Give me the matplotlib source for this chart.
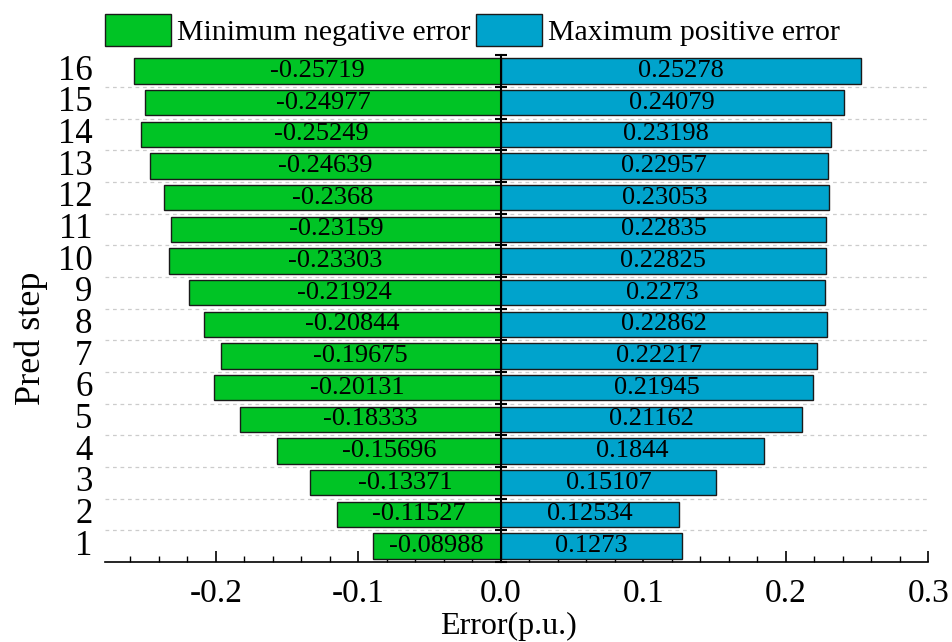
import numpy as np
import matplotlib
matplotlib.use("Agg")
import matplotlib.pyplot as plt
from matplotlib.patches import Patch
from matplotlib.ticker import MultipleLocator, FixedLocator

plt.rcParams['font.family'] = ['Liberation Serif', 'DejaVu Serif']

steps = list(range(1, 17))
neg_err = [-0.08988, -0.11527, -0.13371, -0.15696, -0.18333, -0.20131, -0.19675, -0.20844,
           -0.21924, -0.23303, -0.23159, -0.2368, -0.24639, -0.25249, -0.24977, -0.25719]
pos_err = [0.1273, 0.12534, 0.15107, 0.1844, 0.21162, 0.21945, 0.22217, 0.22862,
           0.2273, 0.22825, 0.22835, 0.23053, 0.22957, 0.23198, 0.24079, 0.25278]
neg_lbl = ['-0.08988', '-0.11527', '-0.13371', '-0.15696', '-0.18333', '-0.20131', '-0.19675',
           '-0.20844', '-0.21924', '-0.23303', '-0.23159', '-0.2368', '-0.24639', '-0.25249',
           '-0.24977', '-0.25719']
pos_lbl = ['0.1273', '0.12534', '0.15107', '0.1844', '0.21162', '0.21945', '0.22217', '0.22862',
           '0.2273', '0.22825', '0.22835', '0.23053', '0.22957', '0.23198', '0.24079', '0.25278']

GREEN = '#00c425'
BLUE = '#00a3cc'

fig = plt.figure(figsize=(9.53, 6.42), dpi=100)
ax = fig.add_axes([0.110, 0.1246, 0.864, 0.7894])

y = np.array(steps)
ax.barh(y, neg_err, height=0.8, color=GREEN, edgecolor='#1a1a1a', linewidth=1.0, zorder=2)
ax.barh(y, pos_err, height=0.8, color=BLUE, edgecolor='#1a1a1a', linewidth=1.0, zorder=2)

# value labels centred in each bar
for yi, v, s in zip(y, neg_err, neg_lbl):
    ax.text(v / 2, yi, s, ha='center', va='center', fontsize=19, zorder=3)
for yi, v, s in zip(y, pos_err, pos_lbl):
    ax.text(v / 2, yi, s, ha='center', va='center', fontsize=19, zorder=3)

# dashed separators between rows
for b in np.arange(1.5, 16.5, 1.0):
    ax.axhline(b, color='#cccccc', linestyle=(0, (3, 3)), linewidth=0.9, zorder=1)

ax.set_xlim(-0.278, 0.3)
ax.set_ylim(0.5, 16.5)

ax.spines['top'].set_visible(False)
ax.spines['right'].set_visible(False)
ax.spines['left'].set_position(('data', 0))
ax.spines['left'].set_linewidth(1.5)
ax.spines['bottom'].set_linewidth(1.2)

ax.xaxis.set_major_locator(FixedLocator([-0.2, -0.1, 0.0, 0.1, 0.2, 0.3]))
ax.xaxis.set_minor_locator(MultipleLocator(0.02))
ax.set_xticklabels(['-0.2', '-0.1', '0.0', '0.1', '0.2', '0.3'])
ax.tick_params(axis='x', which='major', direction='in', length=8, width=1.2, labelsize=24, pad=12)
ax.tick_params(axis='x', which='minor', direction='in', length=4, width=1.0)

ax.yaxis.set_major_locator(FixedLocator(np.arange(0.5, 17, 1.0)))
ax.yaxis.set_minor_locator(FixedLocator(steps))
ax.tick_params(axis='y', which='major', direction='inout', length=8, width=1.5, labelleft=False)
ax.tick_params(axis='y', which='minor', direction='in', length=2, width=1.0)

# step numbers sit at the left edge, not at the x=0 spine
for yi in steps:
    ax.text(-0.015, yi, str(yi), transform=ax.get_yaxis_transform(),
            ha='right', va='center', fontsize=25)

ax.set_xlabel('Error(p.u.)', fontsize=23)
ax.xaxis.set_label_coords(0.49, -0.098)
fig.text(0.033, 0.473, 'Pred step', rotation=90, ha='center', va='center', fontsize=26)

handles = [Patch(facecolor=GREEN, edgecolor='#1a1a1a', label='Minimum negative error'),
           Patch(facecolor=BLUE, edgecolor='#1a1a1a', label='Maximum positive error')]
fig.legend(handles=handles, loc='center', bbox_to_anchor=(0.496, 0.953), ncol=2,
           frameon=False, fontsize=21.5, handlelength=2.2, handleheight=1.3,
           handletextpad=0.2, columnspacing=0.2)

fig.savefig('out.png', dpi=100)
